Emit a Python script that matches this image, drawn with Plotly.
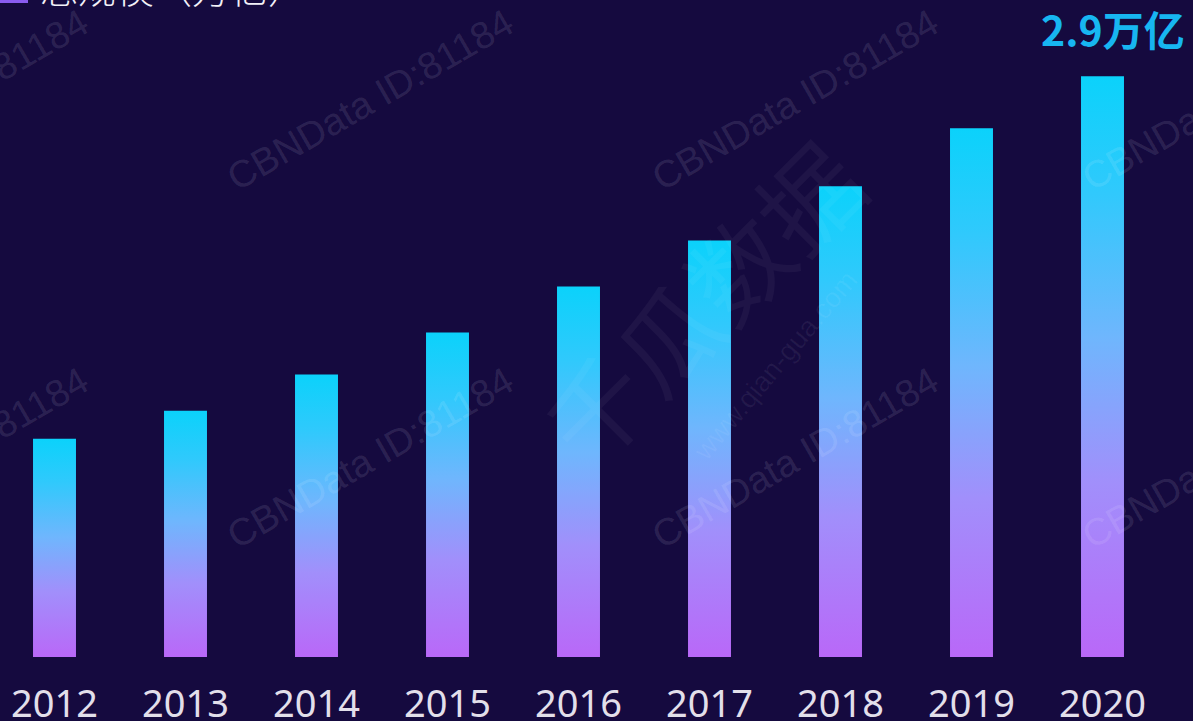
import plotly.graph_objects as go

years = ["2012", "2013", "2014", "2015", "2016", "2017", "2018", "2019", "2020"]
values = [1.09, 1.23, 1.41, 1.62, 1.85, 2.08, 2.35, 2.64, 2.90]
top_label = "2.9万亿"
title_text = "总规模（万亿）"
watermark = "CBNData ID:81184"

BG = "#150a3f"
BAR_W = 0.328
grad = [[0.0, "#b968f8"], [0.3, "#a18ffb"], [0.55, "#6fb6fd"], [0.8, "#30c9fc"], [1.0, "#0bd2fb"]]

fig = go.Figure()
for i, (yr, v) in enumerate(zip(years, values)):
    x0, x1 = i - BAR_W / 2, i + BAR_W / 2
    fig.add_trace(go.Scatter(
        x=[x0, x1, x1, x0, x0], y=[0, 0, v, v, 0],
        mode="lines", fill="toself", line=dict(width=0),
        fillgradient=dict(type="vertical", colorscale=grad),
        hoverinfo="skip", showlegend=False, name=yr,
    ))

# value label above last bar
fig.add_annotation(x=len(years) - 1 + 0.08, y=values[-1], xref="x", yref="y",
                   text=top_label, showarrow=False, yanchor="bottom", yshift=16,
                   font=dict(family="Noto Sans CJK SC", size=41, color="#17b6f1", weight="bold"))

# title (cropped at top)
fig.add_annotation(x=38 / 1193, y=1.0, xref="paper", yref="paper", xanchor="left",
                   yanchor="bottom", yshift=-16, text=title_text, showarrow=False,
                   font=dict(family="Noto Sans CJK SC", size=38, color="#f2f0f8", weight=300))
fig.add_shape(type="rect", xref="paper", yref="paper", x0=0, x1=28 / 1193,
              y0=1 - 3 / 657, y1=1.02, fillcolor="#8a5cf0", line=dict(width=0), layer="above")

# watermarks
wm_font = dict(family="Liberation Sans", size=38, color="rgba(255,255,255,0.11)")
for cx in [-55, 370, 795, 1225]:
    for cy in [100, 458]:
        fig.add_annotation(x=cx / 1193, y=1 - cy / 657, xref="paper", yref="paper",
                           xanchor="center", yanchor="middle",
                           text=watermark, showarrow=False, textangle=-30, font=wm_font)
fig.add_annotation(x=700 / 1193, y=1 - 300 / 657, xref="paper", yref="paper",
                   xanchor="center", yanchor="middle",
                   text="千瓜数据", showarrow=False, textangle=-45,
                   font=dict(family="Noto Sans CJK SC", size=100, color="rgba(255,255,255,0.045)"))
fig.add_annotation(x=775 / 1193, y=1 - 365 / 657, xref="paper", yref="paper",
                   xanchor="center", yanchor="middle",
                   text="www.qian-gua.com", showarrow=False, textangle=-50,
                   font=dict(family="Liberation Sans", size=28, color="rgba(255,255,255,0.06)"))

fig.update_layout(
    width=1193, height=721,
    margin=dict(l=0, r=0, t=0, b=64),
    paper_bgcolor=BG, plot_bgcolor=BG,
    xaxis=dict(range=[-54.5 / 131, (1193 - 54.5) / 131], tickmode="array",
               tickvals=list(range(len(years))), ticktext=years,
               showgrid=False, zeroline=False, showline=False, ticks="",
               ticklabelstandoff=21, automargin=False,
               tickfont=dict(family="Noto Sans", size=38, color="#e2dfea")),
    yaxis=dict(range=[0, 657 / 200.3], visible=False, showgrid=False, zeroline=False,
               automargin=False),
)
fig.write_html("out.html", config={"displayModeBar": False},
               post_script="document.body.style.margin='0';document.body.style.overflow='hidden';")
